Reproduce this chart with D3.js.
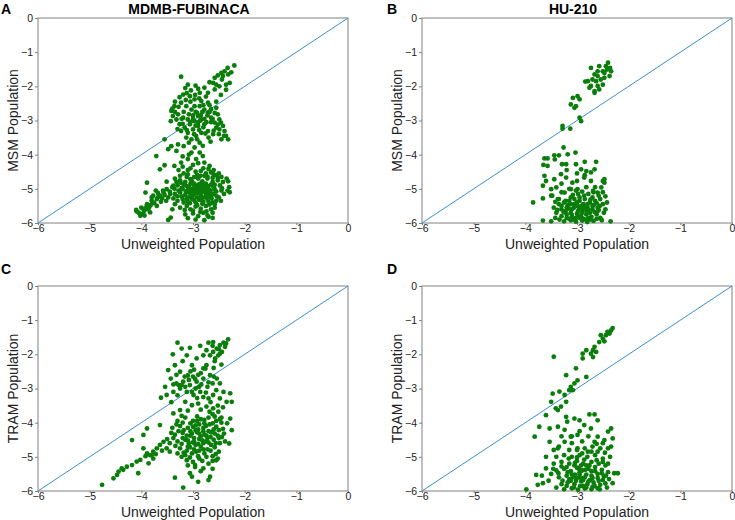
<!DOCTYPE html>
<html>
<head>
<meta charset="utf-8">
<script src="https://cdn.jsdelivr.net/npm/d3@7"></script>
<style>
  body { margin: 0; background: #fff; }
  svg { display: block; font-family: "Liberation Sans", Arial, sans-serif; }
  .axis line { stroke: #808080; }
  .axis text { fill: #222; font-size: 10.5px; }
</style>
</head>
<body>
<svg id="chart" width="735" height="520"></svg>
<script>
// [unweighted, weighted] log10 populations
var fubMsm = [
  [-2.20,-1.39],[-2.33,-1.46],[-2.39,-1.56],[-2.45,-1.61],[-2.52,-1.68],[-2.58,-1.75],[-2.68,-1.88],[-2.42,-1.70],
  [-2.32,-1.65],[-2.26,-1.59],[-2.36,-1.95],[-2.49,-2.00],[-2.58,-2.09],[-2.71,-2.19],[-2.78,-2.04],[-2.61,-1.90],
  [-2.29,-1.90],[-3.23,-1.72],[-3.10,-1.95],[-3.19,-2.24],[-3.06,-2.29],[-2.90,-2.07],[-2.87,-2.19],[-2.97,-2.38],
  [-2.84,-2.43],[-2.71,-2.48],[-2.65,-2.67],[-2.55,-2.63],[-2.52,-2.82],[-2.49,-2.97],[-2.42,-3.16],[-2.39,-3.31],
  [-2.36,-3.45],[-2.49,-3.26],[-2.58,-3.06],[-2.65,-2.92],[-2.71,-2.77],[-2.78,-2.68],[-2.87,-2.58],[-2.97,-2.58],
  [-3.03,-2.68],[-3.13,-2.58],[-3.23,-2.48],[-3.36,-2.58],[-3.42,-2.72],[-3.39,-2.87],[-3.43,-3.02],[-3.29,-2.82],
  [-3.32,-2.97],[-3.19,-2.92],[-3.10,-2.97],[-3.06,-3.11],[-2.97,-3.02],[-2.90,-2.87],[-2.84,-2.97],[-2.78,-3.11],
  [-2.90,-3.16],[-3.00,-3.26],[-3.10,-3.36],[-3.16,-3.21],[-3.26,-3.11],[-3.23,-3.31],[-3.13,-3.50],[-3.03,-3.55],
  [-2.94,-3.45],[-2.84,-3.36],[-2.71,-3.31],[-2.61,-3.40],[-2.55,-3.21],[-2.45,-3.55],[-2.32,-3.55],[-3.55,-3.55],
  [-2.87,-3.65],[-2.81,-3.74],[-3.29,-3.70],[-3.42,-3.75],[-3.48,-3.84],[-3.32,-3.89],[-2.97,-3.79],[-2.87,-3.94],
  [-2.81,-4.04],[-3.71,-4.04],[-3.03,-3.94],[-2.94,-4.13],[-3.10,-4.13],[-2.78,-4.23],[-2.68,-4.33],[-3.23,-4.23],
  [-3.36,-4.33],[-3.55,-4.31],[-3.64,-4.43],
  [-2.95,-2.75],[-2.85,-2.85],[-3.00,-2.95],[-2.90,-3.05],[-3.08,-2.82],[-2.78,-2.95],[-2.72,-2.85],[-2.80,-3.20],
  [-2.65,-3.05],[-2.60,-3.30],[-2.50,-3.40],[-2.70,-3.50],[-3.18,-2.75],[-3.28,-2.60],[-3.20,-3.10],[-3.05,-2.45],
  [-2.88,-2.35],[-2.75,-2.30],[-3.35,-2.45],[-3.12,-2.20],[-3.15,-2.05],[-2.95,-1.98],
  [-3.00,-2.85],[-2.92,-2.78],[-2.82,-2.75],[-3.05,-3.05],[-2.95,-3.15],[-2.86,-3.00],[-2.74,-3.05],[-2.68,-2.75],
  [-2.62,-2.95],[-2.58,-2.78],[-2.46,-3.06],[-2.40,-3.45],[-2.52,-3.12],[-3.14,-2.40],[-3.26,-2.32],[-3.40,-2.65],
  [-3.30,-3.25],[-3.12,-3.28],[-2.98,-3.40],[-2.88,-3.28],[-2.76,-3.38],[-2.66,-3.62],[-3.08,-3.65],[-2.96,-2.25],
  [-2.80,-2.55],[-2.68,-2.55],[-2.55,-2.45],[-2.46,-2.25],[-2.36,-2.10],[-2.44,-1.80],[-2.55,-1.95],[-3.04,-2.12],
  [-3.22,-2.95],[-3.35,-2.75],[-2.92,-3.55],[-3.18,-3.75],[-3.08,-4.00],[-3.20,-4.05],
  [-3.28,-4.45],[-3.18,-4.55],[-3.05,-4.40],[-2.95,-4.50],[-2.85,-4.48],[-2.75,-4.55],[-2.65,-4.52],[-2.55,-4.60],
  [-2.45,-4.65],[-2.35,-4.70],[-2.32,-4.78],[-2.30,-4.95],[-2.33,-5.05],[-2.29,-5.10],[-3.35,-4.70],[-3.25,-4.75],
  [-3.15,-4.80],[-3.05,-4.72],[-2.98,-4.85],[-2.90,-4.70],[-2.82,-4.78],[-2.72,-4.70],[-2.62,-4.80],[-2.52,-4.75],
  [-2.48,-4.90],[-3.40,-4.95],[-3.30,-4.90],[-3.20,-5.00],[-3.12,-4.92],[-3.02,-5.00],[-2.95,-4.95],[-2.88,-5.02],
  [-2.80,-4.92],[-2.70,-5.00],[-2.60,-4.95],[-2.55,-5.08],[-2.45,-5.05],[-3.35,-5.15],[-3.25,-5.10],[-3.15,-5.18],
  [-3.08,-5.10],[-3.00,-5.20],[-2.93,-5.12],[-2.85,-5.18],[-2.78,-5.10],[-2.68,-5.20],[-2.60,-5.15],[-2.50,-5.25],
  [-3.30,-5.35],[-3.20,-5.30],[-3.10,-5.38],[-3.02,-5.30],[-2.95,-5.40],[-2.88,-5.32],[-2.80,-5.38],[-2.72,-5.30],
  [-2.62,-5.40],[-2.55,-5.35],[-3.25,-5.55],[-3.12,-5.50],[-3.05,-5.60],[-2.95,-5.52],[-2.85,-5.58],[-2.75,-5.50],
  [-2.65,-5.60],[-2.58,-5.55],[-3.15,-5.75],[-3.00,-5.72],[-2.90,-5.80],[-2.80,-5.70],[-2.70,-5.82],[-2.95,-5.90],
  [-2.72,-5.78],[-3.05,-4.85],[-2.98,-5.05],[-2.90,-4.88],[-2.82,-5.05],[-3.10,-5.02],[-2.75,-4.85],[-2.68,-5.08],
  [-3.18,-4.88],[-2.92,-5.25],[-3.08,-5.25],[-2.85,-4.95],[-2.78,-5.25],[-2.65,-4.88],[-3.00,-5.12],[-2.88,-5.12],
  [-3.22,-5.22],[-2.70,-5.12],[-2.58,-5.02],[-2.62,-4.68],[-2.78,-4.62],[-2.92,-4.60],[-3.12,-4.65],[-3.25,-4.62],
  [-2.50,-4.55],[-2.70,-4.42],[-3.00,-4.30],[-2.90,-4.25],
  [-3.02,-4.78],[-2.96,-4.92],[-2.86,-4.85],[-2.76,-4.98],[-2.66,-5.05],[-3.14,-5.08],[-3.04,-5.16],[-2.94,-5.04],
  [-2.84,-5.24],[-2.74,-5.18],[-2.64,-5.28],[-3.18,-5.40],[-3.06,-5.42],[-2.92,-5.48],[-2.82,-5.44],[-2.68,-5.46],
  [-2.58,-5.45],[-3.10,-4.58],[-2.98,-4.66],[-2.86,-4.62],[-2.72,-4.64],[-2.60,-4.58],[-2.52,-4.68],[-2.42,-4.80],
  [-2.44,-4.98],[-2.40,-5.15],[-2.46,-5.35],[-3.22,-4.98],[-3.30,-5.22],[-3.16,-5.62],[-3.00,-5.64],[-2.86,-5.68],
  [-2.74,-5.66],[-2.62,-5.70],[-3.08,-4.95],[-2.99,-4.88],[-2.91,-4.95],[-2.81,-4.88],[-2.71,-4.92],[-3.06,-5.06],
  [-2.96,-5.14],[-2.86,-5.06],[-2.76,-5.06],[-3.12,-5.30],[-2.98,-5.33],[-2.84,-5.32],[-2.70,-5.38],[-3.24,-4.82],
  [-3.32,-4.80],[-3.28,-5.05],[-2.64,-5.18],[-2.54,-5.22],[-2.58,-4.88],[-3.36,-5.00],[-3.44,-5.15],[-3.52,-5.35],
  [-3.38,-5.28],[-3.58,-5.05],[-3.68,-5.25],[-3.78,-5.38],[-3.88,-5.60],[-4.00,-5.55],[-3.94,-5.78],[-3.82,-5.48],
  [-3.20,-4.35],[-3.10,-4.45],[-2.80,-4.40],[-2.60,-4.45],[-3.10,-5.86],[-2.78,-5.92],[-2.62,-5.85],
  [-4.09,-5.66],[-4.02,-5.79],[-3.96,-5.59],[-3.89,-5.45],[-3.80,-5.35],[-3.70,-5.30],[-3.77,-5.20],[-3.64,-5.20],
  [-3.57,-5.11],[-3.51,-5.01],[-3.38,-4.91],[-3.89,-4.82],[-3.51,-4.79],[-3.43,-5.84],[-3.48,-5.91],[-3.83,-5.69],
  [-3.70,-5.50],[-3.92,-5.11],[-3.99,-5.74],[-3.60,-5.28],[-3.75,-5.42],[-3.85,-5.55],[-3.95,-5.65],[-4.05,-5.70],
  [-3.55,-5.18],[-3.45,-5.08],[-3.68,-5.12],[-3.80,-5.25],[-3.62,-5.38],[-3.48,-5.25],[-3.90,-5.52],[-4.10,-5.62],
  [-3.72,-5.05],[-3.35,-5.45],[-3.40,-5.60]
];

var huMsm = [
  [-2.40,-1.31],[-2.44,-1.41],[-2.34,-1.56],[-2.37,-1.70],[-2.50,-1.56],[-2.57,-1.41],[-2.60,-1.56],[-2.66,-1.65],
  [-2.73,-1.46],[-2.70,-1.80],[-2.79,-1.85],[-2.84,-1.86],[-2.63,-1.85],[-2.54,-1.80],[-2.47,-1.75],[-2.73,-1.99],
  [-2.76,-2.04],[-2.66,-2.14],[-2.60,-1.99],[-2.50,-1.95],[-2.57,-2.09],[-2.66,-2.19],[-2.60,-1.70],[-2.47,-1.61],
  [-2.42,-1.51],[-2.36,-1.46],
  [-3.08,-2.34],[-2.99,-2.29],[-2.95,-2.38],[-3.12,-2.53],[-3.05,-2.63],[-3.02,-2.58],[-2.95,-2.92],[-2.92,-3.02],
  [-3.28,-3.16],[-3.28,-3.24],[-3.13,-3.24],
  [-3.26,-3.79],[-3.18,-3.99],[-3.03,-3.94],[-3.44,-4.02],[-3.35,-4.02],[-3.63,-4.11],[-3.57,-4.11],[-3.43,-4.14],
  [-2.85,-4.21],[-2.63,-4.21],[-3.57,-4.33],[-3.29,-4.28],[-3.21,-4.28],[-3.02,-4.28],[-2.92,-4.43],[-2.82,-4.48],
  [-2.73,-4.52],[-2.66,-4.43],[-3.63,-4.62],[-3.66,-4.91],[-3.60,-4.77],[-3.44,-4.72],[-3.31,-4.57],[-3.21,-4.67],
  [-3.09,-4.82],[-3.00,-4.77],[-2.86,-4.67],[-2.73,-4.77],[-2.47,-4.72],[-2.47,-4.82],[-2.50,-4.77],[-2.53,-4.96],
  [-2.60,-5.11],[-2.69,-5.06],[-3.85,-5.40],[-3.66,-5.28],[-3.50,-5.20],[-3.37,-5.30],[-3.50,-5.01],[-3.40,-4.96],
  [-3.24,-5.11],[-3.12,-5.01],[-2.99,-5.01],
  [-3.35,-5.45],[-3.25,-5.40],[-3.15,-5.35],[-3.05,-5.30],[-2.95,-5.35],[-2.85,-5.30],[-2.75,-5.40],[-2.65,-5.35],
  [-2.55,-5.30],[-2.50,-5.45],[-3.30,-5.60],[-3.20,-5.55],[-3.10,-5.60],[-3.00,-5.50],[-2.90,-5.60],[-2.80,-5.52],
  [-2.70,-5.60],[-2.60,-5.55],[-2.45,-5.60],[-3.30,-5.80],[-3.20,-5.75],[-3.10,-5.82],[-3.00,-5.72],[-2.92,-5.80],
  [-2.82,-5.75],[-2.72,-5.82],[-2.62,-5.75],[-2.55,-5.85],[-3.25,-5.95],[-3.12,-5.92],[-3.02,-5.96],[-2.90,-5.93],
  [-2.80,-5.97],[-2.68,-5.94],[-3.50,-5.95],[-3.66,-5.93],[-2.35,-5.95],[-3.40,-5.70],
  [-3.05,-5.45],[-2.98,-5.65],[-2.88,-5.45],[-2.82,-5.65],[-3.12,-5.70],[-3.18,-5.48],[-2.75,-5.70],[-2.68,-5.48],
  [-3.02,-5.85],[-2.95,-5.25],[-2.70,-5.25],[-3.22,-5.65],[-2.60,-5.65],[-3.08,-5.18],[-2.78,-5.15],[-2.88,-5.88],
  [-3.15,-5.88],[-2.58,-5.20],[-2.50,-5.10],[-3.35,-5.30],[-3.45,-5.55],[-3.48,-5.20],[-3.30,-5.10],[-2.90,-5.08],
  [-3.02,-5.05],[-2.82,-4.95],[-3.15,-5.00],[-2.65,-4.95],[-3.30,-4.85],[-3.20,-4.45],[-3.00,-4.55],[-2.85,-4.60],
  [-3.65,-4.30],
  [-3.06,-5.55],[-2.96,-5.58],[-2.86,-5.55],[-2.78,-5.60],[-3.16,-5.58],[-3.26,-5.68],[-3.10,-5.76],[-2.98,-5.78],
  [-2.90,-5.70],[-2.78,-5.85],[-2.66,-5.68],[-2.58,-5.62],[-3.20,-5.85],[-3.06,-5.90],[-2.94,-5.86],[-2.84,-5.90],
  [-2.74,-5.90],[-2.62,-5.88],[-3.34,-5.90],[-3.42,-5.85],[-3.00,-5.40],[-2.92,-5.50],[-2.80,-5.45],[-2.70,-5.50],
  [-2.62,-5.42],[-3.12,-5.45],[-3.22,-5.35],[-3.30,-5.50],[-2.56,-5.50],[-2.48,-5.70],[-2.42,-5.40],[-2.86,-5.20],
  [-2.74,-5.32],[-2.98,-5.15],[-3.12,-5.25],[-3.38,-5.62],[-2.52,-5.92],[-2.45,-5.22],[-3.42,-5.38],[-2.68,-5.10]
];

var fubTram = [
  [-2.32,-1.56],[-2.41,-1.66],[-2.48,-1.73],[-2.54,-1.83],[-2.61,-1.93],[-2.67,-2.03],[-2.44,-1.93],[-2.51,-2.03],
  [-2.57,-2.12],[-2.38,-1.78],[-2.74,-1.88],[-2.80,-2.03],[-2.61,-1.64],[-2.70,-1.66],
  [-3.30,-1.66],[-3.22,-1.83],[-3.06,-1.81],[-2.86,-1.75],[-3.39,-2.00],[-3.12,-2.03],[-2.93,-2.12],[-3.35,-2.32],
  [-3.25,-2.51],[-3.02,-2.32],[-2.80,-2.41],[-2.74,-2.32],[-3.48,-2.46],[-3.43,-2.71],[-3.32,-2.85],[-3.19,-2.80],
  [-3.06,-2.90],[-2.93,-2.80],[-2.80,-2.71],[-2.67,-2.61],[-2.54,-2.71],[-2.48,-2.85],[-2.41,-3.10],[-2.28,-3.14],
  [-2.25,-3.39],[-2.35,-3.39],[-2.48,-3.29],[-2.61,-3.19],[-2.70,-3.29],[-2.86,-3.10],[-2.99,-3.19],[-3.12,-3.10],
  [-3.25,-3.00],[-3.38,-3.10],[-3.54,-2.95],[-3.51,-3.19],[-3.62,-3.27],[-3.15,-3.39],[-3.02,-3.49],[-2.90,-3.44],
  [-2.74,-3.53],[-2.61,-3.58],[-2.51,-3.68],[-3.25,-3.63],[-3.38,-3.73],
  [-3.00,-2.65],[-2.88,-2.95],[-3.10,-2.62],[-2.95,-3.00],[-3.28,-2.90],[-2.72,-2.95],[-2.62,-2.85],[-3.20,-2.20],
  [-2.98,-2.45],[-2.85,-2.55],[-2.60,-2.40],[-2.55,-3.05],[-3.15,-2.95],[-2.80,-3.25],
  [-2.96,-2.72],[-2.90,-2.60],[-3.08,-2.75],[-2.84,-2.88],[-2.70,-2.82],[-2.60,-2.65],[-3.16,-2.65],[-3.22,-2.90],
  [-3.38,-2.88],[-3.30,-3.20],[-3.02,-3.10],[-2.92,-3.28],[-2.75,-3.12],[-2.66,-3.40],[-2.52,-3.50],[-2.42,-3.55],
  [-2.45,-2.30],[-2.58,-2.20],[-2.50,-1.85],[-2.62,-1.75],[-2.36,-1.68],[-3.10,-3.65],[-3.22,-3.80],[-2.85,-3.62],
  [-2.76,-2.42],[-3.05,-2.50],[-3.32,-2.60],[-3.42,-3.40],[-2.48,-1.98],
  [-2.25,-4.22],[-2.28,-3.88],[-2.30,-4.61],
  [-4.76,-5.82],[-4.54,-5.63],[-4.47,-5.53],[-4.35,-5.38],[-4.28,-5.29],[-4.18,-5.24],[-4.09,-5.14],[-4.02,-5.09],
  [-4.06,-5.48],[-4.18,-4.51],[-3.96,-4.75],[-3.89,-4.90],[-3.83,-4.95],[-3.77,-4.85],[-3.70,-4.75],[-3.64,-4.65],
  [-3.57,-4.56],[-3.96,-4.36],[-3.89,-4.17],[-3.80,-4.95],[-3.86,-5.19],[-3.77,-5.05],[-3.51,-4.75],[-3.64,-4.07],
  [-4.38,-5.34],[-4.44,-5.43],[-3.92,-4.98],[-3.72,-4.92],[-3.60,-4.82],
  [-3.35,-5.61],[-3.19,-5.90],[-3.06,-5.48],[-2.90,-5.73],[-2.70,-5.68],[-2.67,-5.58],[-2.80,-5.34],[-2.96,-5.24],
  [-3.30,-3.95],[-3.15,-3.85],[-3.00,-3.95],[-2.85,-3.90],[-2.70,-3.85],[-2.55,-3.95],[-2.45,-4.00],[-2.62,-3.75],
  [-3.40,-4.15],[-3.25,-4.10],[-3.10,-4.15],[-2.95,-4.08],[-2.80,-4.15],[-2.68,-4.05],[-2.55,-4.12],[-2.42,-4.18],
  [-3.35,-4.35],[-3.20,-4.30],[-3.05,-4.38],[-2.92,-4.28],[-2.78,-4.35],[-2.65,-4.28],[-2.52,-4.38],[-2.40,-4.32],
  [-3.30,-4.55],[-3.15,-4.50],[-3.00,-4.58],[-2.88,-4.48],[-2.75,-4.55],[-2.60,-4.50],[-2.48,-4.60],[-3.25,-4.75],
  [-3.10,-4.70],[-2.98,-4.78],[-2.85,-4.70],[-2.72,-4.78],[-2.58,-4.72],[-2.50,-4.85],[-3.15,-4.95],[-3.02,-4.90],
  [-2.90,-4.98],[-2.78,-4.90],[-2.62,-4.98],[-2.55,-5.10],[-2.52,-5.05],[-3.00,-5.15],[-2.82,-5.12],[-3.12,-5.10],
  [-2.70,-5.20],[-3.05,-4.25],[-2.98,-4.45],[-2.90,-4.20],[-2.85,-4.40],[-2.72,-4.45],[-2.65,-4.65],[-3.08,-4.60],
  [-2.95,-4.65],[-2.80,-4.60],[-3.20,-4.45],[-2.60,-4.20],[-2.70,-4.25],[-2.88,-4.82],[-3.12,-4.82],[-2.78,-4.02],
  [-2.92,-3.95],[-3.05,-4.02],[-2.50,-4.45],[-2.45,-3.85],[-3.45,-4.60],[-3.45,-4.85],[-3.38,-4.45],
  [-3.02,-4.32],[-2.95,-4.22],[-2.88,-4.32],[-2.80,-4.25],[-2.74,-4.38],[-2.66,-4.42],[-2.58,-4.32],[-3.12,-4.38],
  [-3.18,-4.22],[-3.28,-4.25],[-3.10,-4.52],[-2.98,-4.55],[-2.90,-4.62],[-2.82,-4.52],[-2.70,-4.58],[-2.56,-4.60],
  [-3.22,-4.62],[-3.34,-4.68],[-3.06,-4.72],[-2.94,-4.85],[-2.80,-4.78],[-2.66,-4.82],[-2.56,-4.92],[-3.18,-4.88],
  [-3.06,-5.02],[-2.88,-5.05],[-2.74,-5.00],[-2.62,-5.12],[-3.00,-4.12],[-2.88,-4.05],[-2.75,-4.10],[-2.62,-4.02],
  [-2.50,-4.22],[-2.44,-4.42],[-2.38,-4.55],[-2.34,-4.02],[-2.48,-3.90],[-2.58,-3.82],[-3.20,-4.00],[-3.32,-4.05],
  [-3.42,-4.30],[-3.50,-4.48],[-2.92,-3.82],[-2.78,-3.92],[-2.68,-3.68],[-3.22,-5.00],[-3.30,-4.90],[-2.96,-5.30],
  [-3.02,-5.58],[-2.85,-5.42],[-2.62,-5.35],[-3.10,-5.25]
];

var huTram = [
  [-2.31,-1.23],[-2.34,-1.30],[-2.37,-1.39],[-2.44,-1.44],[-2.41,-1.34],[-2.50,-1.54],[-2.54,-1.44],[-2.57,-1.64],
  [-2.47,-1.62],[-2.66,-1.78],[-2.69,-1.88],[-2.73,-1.98],[-2.63,-1.93],[-2.69,-2.08],[-2.89,-1.98],[-2.89,-2.12],
  [-2.82,-1.88],[-3.45,-2.07],
  [-3.02,-2.41],[-3.21,-2.61],[-2.82,-2.66],[-3.05,-2.85],[-3.12,-2.95],[-3.15,-3.05],[-3.08,-3.05],[-2.99,-2.76],
  [-3.34,-3.09],[-3.47,-3.15],[-3.24,-3.19],[-3.50,-3.39],[-3.41,-3.58],[-3.37,-3.63],[-3.31,-3.53],[-3.21,-3.39],
  [-3.60,-3.78],[-3.73,-4.12],[-3.82,-4.41],
  [-2.76,-3.76],[-2.66,-3.76],[-3.21,-3.83],[-3.19,-3.97],[-3.05,-3.88],[-2.95,-3.93],[-2.60,-3.93],[-2.86,-4.07],
  [-2.73,-4.17],[-2.34,-4.17],[-2.40,-4.26],[-3.53,-4.17],[-3.37,-4.12],[-3.24,-4.21],[-3.12,-4.41],[-2.99,-4.36],
  [-2.60,-4.41],[-2.31,-4.46],[-2.66,-4.56],[-2.47,-4.51],[-2.34,-4.70],[-2.40,-4.75],[-3.53,-4.56],[-3.24,-4.56],
  [-3.37,-4.75],[-2.99,-4.75],[-2.79,-4.85],[-2.60,-4.85],
  [-3.79,-5.53],[-3.76,-5.82],[-3.66,-5.77],[-3.98,-5.95],[-3.60,-5.34],[-2.21,-5.48],[-2.28,-5.48],[-2.31,-5.77],
  [-3.40,-5.00],[-3.25,-4.95],[-3.10,-5.00],[-2.95,-4.95],[-2.80,-5.00],[-2.65,-4.95],[-2.50,-5.05],[-3.45,-5.20],
  [-3.30,-5.15],[-3.15,-5.20],[-3.00,-5.12],[-2.88,-5.20],[-2.72,-5.15],[-2.58,-5.20],[-2.45,-5.25],[-3.40,-5.40],
  [-3.25,-5.35],[-3.12,-5.42],[-3.00,-5.32],[-2.90,-5.40],[-2.78,-5.35],[-2.65,-5.42],[-2.52,-5.38],[-2.40,-5.45],
  [-3.35,-5.60],[-3.20,-5.55],[-3.08,-5.60],[-2.95,-5.52],[-2.85,-5.60],[-2.72,-5.55],[-2.60,-5.62],[-2.48,-5.58],
  [-2.38,-5.65],[-3.30,-5.80],[-3.18,-5.75],[-3.05,-5.80],[-2.92,-5.72],[-2.80,-5.80],[-2.68,-5.75],[-2.55,-5.82],
  [-2.45,-5.78],[-3.25,-5.95],[-3.10,-5.92],[-2.98,-5.96],[-2.85,-5.93],[-2.72,-5.95],[-2.60,-5.92],[-3.40,-5.90],
  [-3.05,-5.25],[-2.95,-5.45],[-2.82,-5.25],[-3.15,-5.65],[-2.75,-5.68],[-3.02,-5.70],[-2.88,-5.85],[-2.65,-5.30],
  [-3.20,-5.30],[-2.58,-5.70],[-3.50,-5.50],[-3.55,-5.70],[-2.42,-5.90],[-3.00,-4.80],[-2.85,-4.75],[-3.15,-4.80],
  [-2.70,-4.70],[-3.35,-4.70],[-2.55,-4.75],[-2.90,-4.55],[-3.10,-4.60],[-2.78,-4.40],[-3.30,-4.40],[-2.50,-4.60],
  [-3.04,-5.52],[-2.92,-5.62],[-2.82,-5.52],[-2.70,-5.62],[-3.12,-5.70],[-3.00,-5.62],[-2.88,-5.68],[-2.78,-5.72],
  [-2.66,-5.85],[-3.20,-5.85],[-3.06,-5.90],[-2.94,-5.86],[-2.82,-5.90],[-2.70,-5.88],[-2.56,-5.95],[-2.50,-5.68],
  [-2.44,-5.55],[-2.52,-5.48],[-3.28,-5.70],[-3.36,-5.48],[-3.10,-5.52],[-2.96,-5.35],[-2.84,-5.38],[-2.72,-5.42],
  [-2.60,-5.50],[-3.18,-5.45],[-3.04,-5.18],[-2.92,-5.25],[-2.76,-5.25],[-2.62,-5.10],[-3.30,-5.28],[-3.46,-5.35],
  [-2.50,-5.15],[-2.40,-5.20],[-2.36,-5.00],[-3.00,-5.02],[-2.86,-5.08],[-3.16,-5.05],[-2.72,-4.85],[-2.90,-4.90],
  [-3.10,-4.40],[-2.95,-4.25],[-2.62,-4.62],[-2.46,-4.88],[-3.45,-4.80],[-3.60,-5.00],[-3.68,-5.55]
];

var ticks = [-6, -5, -4, -3, -2, -1, 0];

var panels = [
  {letter: "A", title: "MDMB-FUBINACA", ylab: "MSM Population",  data: fubMsm,  left: 38,  top: 18},
  {letter: "B", title: "HU-210",        ylab: "MSM Population",  data: huMsm,   left: 422, top: 18},
  {letter: "C", title: "",              ylab: "TRAM Population", data: fubTram, left: 38,  top: 286},
  {letter: "D", title: "",              ylab: "TRAM Population", data: huTram,  left: 422, top: 286}
];

var width = 310, height = 205;
var svg = d3.select("#chart");

var x = d3.scaleLinear().domain([-6, 0]).range([0, width]);
var y = d3.scaleLinear().domain([-6, 0]).range([height, 0]);

panels.forEach(function(p) {
  var g = svg.append("g").attr("transform", "translate(" + p.left + "," + p.top + ")");

  g.append("rect")
      .attr("width", width)
      .attr("height", height)
      .attr("fill", "none")
      .attr("stroke", "#808080");

  g.append("g")
      .attr("class", "axis")
      .attr("transform", "translate(0," + height + ")")
      .call(d3.axisBottom(x).tickValues(ticks).tickSize(2).tickPadding(0).tickFormat(d3.format("d")));

  g.append("g")
      .attr("class", "axis")
      .call(d3.axisLeft(y).tickValues(ticks).tickSize(3).tickPadding(2).tickFormat(d3.format("d")));

  g.selectAll(".axis .domain").remove();

  // diagonal reference line
  g.append("line")
      .attr("x1", x(-6)).attr("y1", y(-6))
      .attr("x2", x(0)).attr("y2", y(0))
      .attr("stroke", "#3b8ed4")
      .attr("stroke-width", 1);

  g.append("g")
      .selectAll("circle")
      .data(p.data)
      .enter().append("circle")
      .attr("cx", function(d) { return x(d[0]); })
      .attr("cy", function(d) { return y(d[1]); })
      .attr("r", 2.4)
      .attr("fill", "#0a7d0a");

  g.append("text")
      .attr("x", width / 2)
      .attr("y", height + 25.5)
      .attr("text-anchor", "middle")
      .attr("font-size", 14)
      .attr("fill", "#222")
      .text("Unweighted Population");

  g.append("text")
      .attr("transform", "translate(-20," + (height / 2) + ") rotate(-90)")
      .attr("text-anchor", "middle")
      .attr("font-size", 14)
      .attr("fill", "#222")
      .text(p.ylab);

  if (p.title) {
    g.append("text")
        .attr("x", width / 2 - 4)
        .attr("y", -4.5)
        .attr("text-anchor", "middle")
        .attr("font-size", 14)
        .attr("font-weight", "bold")
        .text(p.title);
  }

  g.append("text")
      .attr("x", p.left === 38 ? -37 : -35)
      .attr("y", p.top === 18 ? -4.5 : -12)
      .attr("font-size", 14)
      .attr("font-weight", "bold")
      .text(p.letter);
});
</script>
</body>
</html>
